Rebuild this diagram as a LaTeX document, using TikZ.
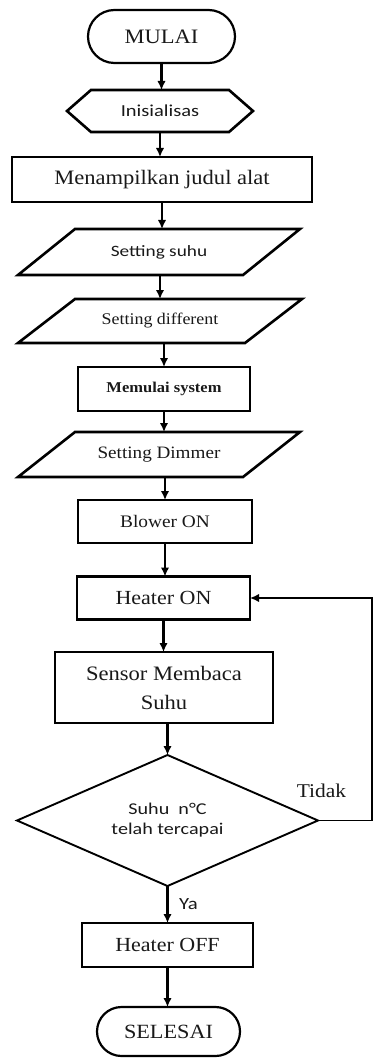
\documentclass[tikz,border=0pt]{standalone}
\usepackage{fontspec}
\setmainfont{Liberation Serif}[FakeStretch=1.1]
\newfontfamily\flowsans{Carlito}[FakeStretch=1.22]
\usetikzlibrary{arrows.meta}

% outline helpers drawn from the anchors of a sized, undrawn node
\newcommand\slantbox[2]{\draw[shapeline] ([xshift=#2]#1.north west) -- (#1.north east) -- ([xshift=-#2]#1.south east) -- (#1.south west) -- cycle;}
\newcommand\hexbox[2]{\draw[shapeline] (#1.west) -- ([xshift=#2]#1.north west) -- ([xshift=-#2]#1.north east) -- (#1.east) -- ([xshift=-#2]#1.south east) -- ([xshift=#2]#1.south west) -- cycle;}
\newcommand\diabox[1]{\draw[shapeline,line width=1.9pt] (#1.west) -- (#1.north) -- (#1.east) -- (#1.south) -- cycle;}
\newcommand\fs[1]{\fontsize{#1}{#1}\selectfont}

\begin{document}
\begin{tikzpicture}[x=1pt,y=-1pt,
  every node/.style={text=black!90, inner sep=0pt, outer sep=0pt, align=center},
  shapeline/.style={line width=2.6pt, line join=miter},
  sized/.style n args={2}{minimum width=#1, minimum height=#2},
  box/.style n args={2}{draw, line width=2.5pt, minimum width=#1, minimum height=#2},
  term/.style n args={3}{draw, line width=2.2pt, rounded corners=#3, minimum width=#1, minimum height=#2},
  serif/.style={font=\fs{#1}},
  sans/.style={font=\flowsans\fs{#1}},
  arr/.style={line width=2.2pt, -{Latex[length=9pt,width=8.5pt]}}
]
\useasboundingbox (0,0) rectangle (373,1059);

% process chain
\node[term={147}{53}{26.5}, serif=20.5] (mulai) at (161.5,36.5) {MULAI};
\node[sized={186}{42}, sans=16.8] (init) at (160,111) {Inisialisas};
\hexbox{init}{24pt}
\node[box={300}{45}, serif=20.5] (judul) at (162,179.5) {Menampilkan judul alat};
\node[sized={282}{46}, sans=15.8] (suhu) at (159,252) {Setting suhu};
\slantbox{suhu}{57pt}
\node[sized={284}{44}, serif=16.3] (diff) at (160,321) {Setting different};
\slantbox{diff}{57pt}
\node[box={172}{44}, font=\fs{15}\bfseries] (mulsys) at (164,389) {Memulai system};
\node[sized={282}{45}, serif=17.4] (dimmer) at (159,454.5) {Setting Dimmer};
\slantbox{dimmer}{57pt}
\node[box={174}{43}, serif=17.6] (blower) at (165,521.5) {Blower ON};
\node[box={173}{43}, serif=20] (heaton) at (163.5,598) {Heater ON};
\node[box={218}{71}, font=\fontsize{20.5}{29}\selectfont] (sensor) at (164,687.5) {Sensor Membaca\\Suhu};
\node[sized={301}{131}, font=\flowsans\fontsize{16.5}{20}\selectfont] (cek) at (167.5,820.5) {Suhu\ \ n°C\\telah tercapai};
\diabox{cek}
\node[box={171}{44}, serif=20] (heatoff) at (167.5,945) {Heater OFF};
\node[term={143}{49}{24.5}, serif=20.2] (selesai) at (168.5,1031.5) {SELESAI};

% branch labels
\node[serif=19.5] (tidak) at (321.5,791) {Tidak};
\node[font=\flowsans\fs{17}] (ya) at (188.5,904) {Ya};

% connectors
\draw[arr] (mulai.south) -- (mulai.south |- init.north);
\draw[arr] (init.south) -- (init.south |- judul.north);
\draw[arr] (judul.south) -- (judul.south |- suhu.north);
\draw[arr] (diff.north |- suhu.south) -- (diff.north);
\draw[arr] (mulsys.north |- diff.south) -- (mulsys.north);
\draw[arr] (mulsys.south) -- (mulsys.south |- dimmer.north);
\draw[arr] (blower.north |- dimmer.south) -- (blower.north);
\draw[arr] (blower.south) -- (blower.south |- heaton.north);
\draw[arr] (heaton.south) -- (heaton.south |- sensor.north);
\draw[arr] (cek.north |- sensor.south) -- (cek.north);
\draw[arr] (cek.south) -- (cek.south |- heatoff.north);
\draw[arr] (heatoff.south) -- (heatoff.south |- selesai.north);

% loop back when the temperature is not reached
\coordinate (rim) at (372,0);
\draw[arr, line width=1.9pt] (cek.east) -- (cek.east -| rim) -- (rim |- heaton.east) -- (heaton.east);
\end{tikzpicture}
\end{document}
